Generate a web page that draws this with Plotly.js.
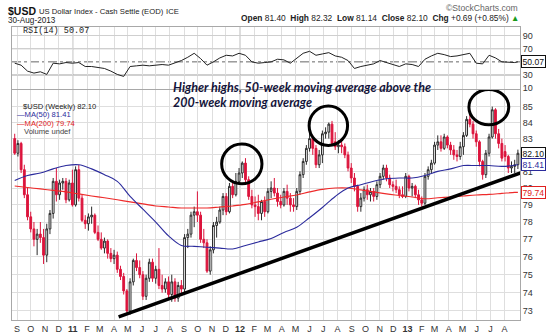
<!DOCTYPE html>
<html><head><meta charset="utf-8">
<script src="https://cdn.plot.ly/plotly-3.0.1.min.js"></script>
<style>html,body{margin:0;padding:0;background:#fff}#chart{width:550px;height:336px}</style>
</head><body><div id="chart"></div>
<script>
// ---- data (weekly, first bar Friday 2010-08-27) ----
const firstWeek = '2010-08-27';
const opens = [83.0,82.1,82.7,81.1,79.6,78.3,77.6,77.0,77.3,77.1,76.1,77.6,78.5,80.4,79.6,80.3,80.4,79.3,80.3,79.0,
81.1,79.4,78.1,77.9,78.3,78.4,77.4,77.0,76.5,76.9,76.2,75.9,76.1,75.3,74.9,74.1,73.0,74.6,75.8,75.4,
75.0,73.8,74.8,75.7,74.8,75.3,74.4,74.2,74.6,73.9,74.6,73.7,74.4,74.2,77.1,77.3,78.4,78.6,78.4,77.0,
76.8,75.2,76.4,77.8,78.0,78.7,79.5,78.6,80.1,79.6,80.4,80.9,81.5,80.5,79.5,79.0,78.9,78.5,79.2,78.6,
79.8,80.0,79.7,79.2,79.0,79.8,79.4,79.0,78.9,79.8,80.8,81.6,82.4,83.0,82.4,81.4,82.0,83.3,83.4,83.9,
82.8,82.5,82.6,82.5,82.0,81.2,80.6,80.1,78.9,79.4,79.9,79.6,79.8,79.5,80.2,80.7,81.2,80.6,80.2,80.1,
79.9,79.6,79.5,80.7,80.0,80.1,79.6,79.3,79.1,80.7,81.1,81.5,82.6,82.8,82.4,83.1,82.6,82.3,82.0,81.9,
82.5,83.2,84.2,83.9,83.3,82.8,81.6,80.8,82.1,83.1,84.8,83.3,82.7,82.2,81.9,81.2,81.3,81.40];
const highs = [83.3,82.9,82.8,81.4,80.0,78.6,78.0,77.6,78.0,77.6,77.9,78.7,80.6,81.2,80.5,80.6,80.6,80.5,81.1,81.3,
81.4,79.6,78.4,78.5,78.9,78.5,77.8,77.4,77.1,77.0,76.5,76.4,76.3,75.5,75.1,74.2,74.8,75.9,76.2,75.8,
75.2,75.0,75.9,75.9,75.5,76.5,75.0,74.8,74.9,75.0,74.8,74.6,74.7,77.3,77.6,78.6,78.9,79.8,78.6,77.6,
77.0,76.6,78.0,78.3,78.9,79.7,79.7,80.3,80.3,80.9,81.2,81.6,81.8,80.7,79.9,79.5,79.6,79.3,79.5,80.0,
80.4,80.6,80.0,79.6,80.0,80.2,79.7,79.4,80.0,81.0,81.8,82.6,83.6,83.2,82.6,82.3,83.5,83.7,84.0,84.1,
83.4,82.9,82.9,82.7,82.2,81.5,80.9,80.2,79.7,80.1,80.2,80.0,80.0,80.4,80.9,81.4,81.4,80.8,80.4,80.5,
80.1,80.1,80.9,80.8,80.3,80.2,79.9,79.5,80.9,81.3,81.7,82.8,83.2,83.2,83.3,83.2,82.8,82.6,82.3,82.8,
83.4,84.4,84.5,84.1,83.5,82.9,81.7,82.3,83.3,85.0,84.9,83.6,83.0,82.6,82.0,81.6,81.7,82.32];
const lows = [82.0,81.9,80.9,79.4,78.1,77.4,76.6,76.1,76.8,75.6,75.7,77.3,78.2,79.2,79.3,79.9,79.1,79.2,78.9,78.9,
79.2,78.0,77.6,77.5,77.9,77.3,76.9,76.4,76.2,75.9,75.7,75.6,75.1,74.7,73.9,72.9,72.8,74.4,75.2,74.8,
73.6,73.6,74.6,74.6,74.5,74.2,74.0,74.0,73.7,73.5,73.5,73.5,73.9,74.0,76.5,77.1,77.7,78.0,76.8,76.5,
75.1,75.0,76.2,77.1,77.9,78.4,78.4,78.5,79.4,79.5,80.2,80.6,80.3,79.3,78.8,78.3,78.1,78.1,78.3,78.5,
79.4,79.5,78.9,78.8,78.9,79.0,78.6,78.6,78.7,79.6,80.6,81.4,82.2,82.0,81.2,81.2,81.5,83.0,83.0,82.6,
82.3,82.1,82.1,81.8,81.0,80.3,79.8,78.6,78.6,79.2,79.3,79.2,79.2,79.3,80.0,80.5,80.4,80.0,79.8,79.7,
79.4,79.4,79.4,79.8,79.5,79.4,79.0,78.9,79.0,80.5,80.9,81.4,82.3,82.2,82.3,82.4,82.0,81.7,81.6,81.7,
82.0,83.1,83.7,83.0,82.5,81.3,80.5,80.6,81.9,83.0,83.0,82.4,81.6,81.6,80.9,80.9,80.9,81.14];
const closes = [82.1,82.7,81.1,79.6,78.3,77.6,77.0,77.3,77.1,76.1,77.6,78.5,80.4,79.6,80.3,80.4,79.3,80.3,79.0,81.1,
79.4,78.1,77.9,78.3,78.4,77.4,77.0,76.5,76.9,76.2,75.9,76.1,75.3,74.9,74.1,73.0,74.6,75.8,75.4,75.0,
73.8,74.8,75.7,74.8,75.3,74.4,74.2,74.6,73.9,74.6,73.7,74.4,74.2,77.1,77.3,78.4,78.6,78.4,77.0,76.8,
75.2,76.4,77.8,78.0,78.7,79.5,78.6,80.1,79.6,80.4,80.9,81.5,80.5,79.5,79.0,78.9,78.5,79.2,78.6,79.8,
80.0,79.7,79.2,79.0,79.8,79.4,79.0,78.9,79.8,80.8,81.6,82.4,83.0,82.4,81.4,82.0,83.3,83.4,83.9,82.7,
82.5,82.6,82.5,82.0,81.2,80.6,80.1,78.9,79.4,79.9,79.6,79.8,79.5,80.2,80.7,81.2,80.6,80.2,80.1,79.9,
79.6,79.5,80.7,80.0,80.1,79.6,79.3,79.1,80.7,81.1,81.5,82.6,82.8,82.4,83.1,82.6,82.3,82.0,81.9,82.5,
83.2,84.2,83.9,83.3,82.8,81.6,80.8,82.1,83.1,84.8,83.3,82.7,81.8,81.9,81.2,81.3,81.4,82.10];
// moving averages read every 4 weeks (last = final week)
const ma50 = [80.45,80.75,80.9,81.15,81.35,81.4,81.15,80.8,80.4,79.5,78.75,78.0,77.2,76.65,76.6,76.55,76.5,76.45,76.65,76.85,
77.05,77.4,77.7,78.25,78.85,79.5,80.0,80.2,80.4,80.55,80.6,80.6,80.75,81.0,81.15,81.35,81.35,81.35,81.3,81.37,81.41];
const ma200 = [80.12,80.03,79.95,79.86,79.77,79.65,79.53,79.42,79.3,79.18,79.06,78.94,78.88,78.82,78.82,78.82,78.88,78.94,79.03,79.18,
79.33,79.47,79.59,79.77,79.92,80.0,80.0,79.89,79.77,79.65,79.56,79.47,79.36,79.42,79.47,79.53,79.59,79.62,79.68,79.74,79.74];
// RSI(14) read every 2 weeks (last = final week)
const rsi = [48,45,36,33,35,31,48,47,49,48,49,43,43,42,40,36,31,28,43,44,
45,44,45,46,45,48,52,57,63,55,45,50,56,60,59,63,60,50,48,49,
50,54,53,48,56,63,66,60,62,64,59,57,52,40,43,45,47,52,49,45,
43,47,46,43,54,59,63,61,58,59,61,63,48,47,60,56,50,49,49,50.07];
const tickLabels = ['S','O','N','D','<b>11</b>','F','M','A','M','J','J','A','S','O','N','D','<b>12</b>','F','M','A','M','J','J','A','S','O','N','D','<b>13</b>','F','M','A','M','J','J','A'];
const priceTicks = [73,74,75,76,77,78,79,80,81,82,83,84,85];
const priceTickText = ['73','74','75','76','77','78','79','80','81','','83','84','85'];
const rsiTicks = [10,30,70,90];
const circles = [
  {from:'2011-11-22', to:'2012-02-18', low:80.25, high:82.66},
  {from:'2012-05-31', to:'2012-08-23', low:82.58, high:85.04},
  {from:'2013-05-15', to:'2013-08-10', low:83.86, high:86.09}
];
const trend = {from:'2011-04-11', fromPrice:72.68, to:'2013-09-14', toPrice:81.0};

// ---- derived positions ----
const DAY = 86400000;
const t0 = Date.parse(firstWeek + 'T00:00:00Z');
const iso = t => new Date(t).toISOString().slice(0,10);
const weekDates = closes.map((_, i) => iso(t0 + i*7*DAY));
const last = closes.length - 1;
const maDates = ma50.map((_, k) => weekDates[Math.min(4*k, last)]);
const rsiDates = rsi.map((_, k) => weekDates[Math.min(2*k, last)]);
const tickDates = tickLabels.map((_, k) => iso(Date.UTC(2010, 8 + k, 1)));

const L = 12, R = 520, T = 27, B = 320;
const px = x => (x - L) / (R - L);
const py = y => (B - y) / (B - T);
const FONT = 'Liberation Sans, Arial, sans-serif';
function ann(text, x, y, size, color, extra) {
  return Object.assign({text, xref:'paper', yref:'paper', x:px(x), y:py(y), xanchor:'left', yanchor:'middle',
    showarrow:false, font:{family:FONT, size, color}}, extra||{});
}

const traces = [
  {type:'candlestick', x:weekDates, open:opens, high:highs, low:lows, close:closes, xaxis:'x', yaxis:'y',
   increasing:{line:{color:'#2a2a2a', width:1}, fillcolor:'#ffffff'},
   decreasing:{line:{color:'#dc143c', width:1}, fillcolor:'#dc143c'},
   whiskerwidth:0, hoverinfo:'skip'},
  {type:'scatter', mode:'lines', x:maDates, y:ma200, line:{color:'#ee2a2a', width:1.1, shape:'spline'}, xaxis:'x', yaxis:'y', hoverinfo:'skip'},
  {type:'scatter', mode:'lines', x:maDates, y:ma50, line:{color:'#2b2b9c', width:1.1, shape:'spline'}, xaxis:'x', yaxis:'y', hoverinfo:'skip'},
  {type:'scatter', mode:'lines', x:rsiDates, y:rsi, line:{color:'#222', width:1}, xaxis:'x2', yaxis:'y2', hoverinfo:'skip'}
];

const xRange = ['2010-08-21 02:00', '2013-09-03 14:00'];
const shapes = [];
['2011-01-01','2012-01-01','2013-01-01'].forEach(d => shapes.push({type:'line', xref:'x', yref:'paper', x0:d, x1:d, y0:0, y1:1, line:{color:'#b8b8b8', width:1}, layer:'below'}));
[30,70].forEach(v => shapes.push({type:'line', xref:'x2', yref:'y2', x0:xRange[0], x1:xRange[1], y0:v, y1:v, line:{color:'#8c8c8c', width:1}, layer:'below'}));
shapes.push({type:'line', xref:'x2', yref:'y2', x0:xRange[0], x1:xRange[1], y0:50, y1:50, line:{color:'#666', width:1, dash:'dashdot'}, layer:'below'});
circles.forEach(c => shapes.push({type:'circle', xref:'x', yref:'y', x0:c.from, x1:c.to, y0:c.low, y1:c.high, line:{color:'#000', width:3}}));
shapes.push({type:'line', xref:'x', yref:'y', x0:trend.from, y0:trend.fromPrice, x1:trend.to, y1:trend.toPrice, line:{color:'#000', width:3.5}});

const lastC = closes[last];
const noteFont = {family:'Lato, sans-serif', size:12.5, color:'#14143a', weight:'bold', style:'italic'};
function tag(value, yref, yval, color) {
  return {text:value.toFixed(2), xref:'paper', yref, x:px(521), y:yval, xanchor:'left', yanchor:'middle', showarrow:false,
    font:{family:FONT, size:8.6, color}, bordercolor:color, borderwidth:1, borderpad:0.5, bgcolor:'#fff'};
}
const annotations = [
  ann('<b>$USD</b>', 6, 11, 10.5, '#111'),
  ann('US Dollar Index - Cash Settle (EOD)', 37, 11.5, 7.7, '#222'),
  ann('ICE', 164, 11.5, 7.7, '#222'),
  ann('30-Aug-2013', 6, 20, 8.2, '#222'),
  ann('©StockCharts.com', 520, 8, 8.6, '#666', {xanchor:'right'}),
  ann('<b>Open</b> 81.40  <b>High</b> 82.32  <b>Low</b> 81.14  <b>Close</b> 82.10  <b>Chg</b> +0.69 (+0.85%) <span style="color:#1a9a1a">▲</span>', 521, 18, 8.4, '#222', {xanchor:'right'}),
  ann('RSI(14) ' + rsi[rsi.length-1].toFixed(2), 21, 31, 8.5, '#222', {font:{family:'Liberation Mono, DejaVu Sans Mono, monospace', size:8.5, color:'#222'}}),
  ann('$USD (Weekly) ' + lastC.toFixed(2), 21, 106, 7.6, '#222'),
  ann('—MA(50) ' + ma50[ma50.length-1].toFixed(2), 15, 114.5, 7.6, '#2b2b9c'),
  ann('—MA(200) ' + ma200[ma200.length-1].toFixed(2), 15, 123, 7.6, '#e02020'),
  ann('Volume undef', 22, 131.5, 7.6, '#444'),
  ann('Higher highs, 50-week moving average above the', 171, 87, 12.5, '#14143a', {font:noteFont}),
  ann('200-week moving average', 171, 102, 12.5, '#14143a', {font:noteFont}),
  tag(lastC, 'y', Math.log10(lastC), '#111'),
  tag(ma50[ma50.length-1], 'y', Math.log10(ma50[ma50.length-1]), '#2b2b9c'),
  tag(ma200[ma200.length-1], 'y', Math.log10(ma200[ma200.length-1]), '#e02020'),
  tag(rsi[rsi.length-1], 'y2', rsi[rsi.length-1], '#111')
];

const gridC = '#dedede', frameC = '#a8a8a8';
const layout = {
  width:550, height:336, margin:{l:L, r:550-R, t:T, b:336-B, pad:0},
  paper_bgcolor:'#fff', plot_bgcolor:'#fff', showlegend:false,
  font:{family:FONT, size:9, color:'#333'},
  boxgap:0.2,
  xaxis:{type:'date', range:xRange, anchor:'y', tickmode:'array', tickvals:tickDates, ticktext:tickLabels, tickangle:0,
    showgrid:true, gridcolor:gridC, gridwidth:1, ticks:'', showline:true, linecolor:frameC, mirror:true, zeroline:false,
    tickfont:{family:FONT, size:9, color:'#333'}, rangeslider:{visible:false}, fixedrange:true},
  yaxis:{type:'log', domain:[0,0.785], range:[Math.log10(72.51), Math.log10(86.06)], side:'right', anchor:'x',
    tickmode:'array', tickvals:priceTicks, ticktext:priceTickText, showgrid:true, gridcolor:gridC, ticks:'',
    showline:true, linecolor:frameC, mirror:true, zeroline:false, tickfont:{family:FONT, size:9, color:'#333'}, fixedrange:true},
  xaxis2:{type:'date', range:xRange, anchor:'y2', matches:'x', tickmode:'array', tickvals:tickDates, showticklabels:false,
    showgrid:true, gridcolor:gridC, ticks:'', showline:true, linecolor:frameC, mirror:true, zeroline:false, fixedrange:true},
  yaxis2:{domain:[0.789,1], range:[9.2,102.8], side:'right', anchor:'x2', tickmode:'array', tickvals:rsiTicks, ticktext:rsiTicks.map(String),
    showgrid:true, gridcolor:'#cfcfcf', ticks:'', showline:true, linecolor:frameC, mirror:true, zeroline:false,
    tickfont:{family:FONT, size:9, color:'#333'}, fixedrange:true},
  shapes, annotations
};
Plotly.newPlot('chart', traces, layout, {staticPlot:true, displayModeBar:false});
</script></body></html>
